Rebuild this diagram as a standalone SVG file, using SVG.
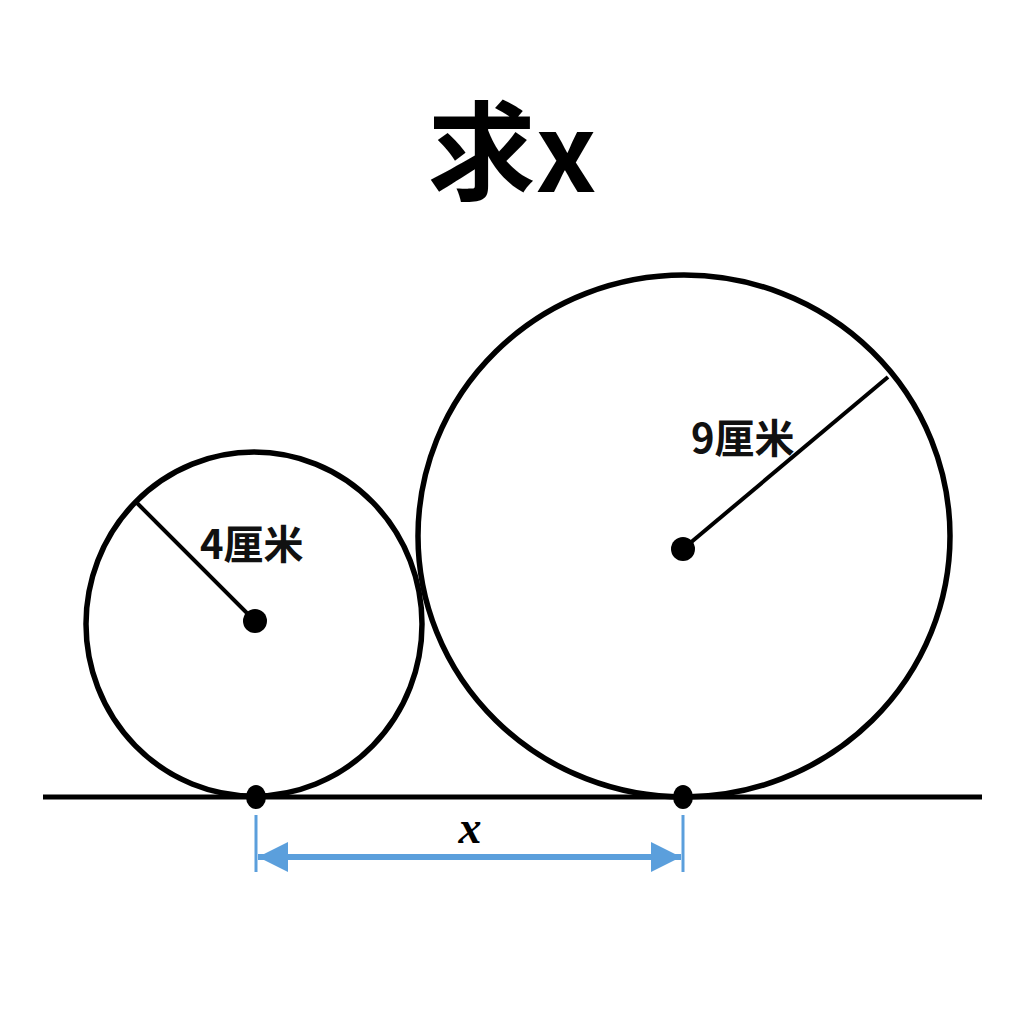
<svg xmlns="http://www.w3.org/2000/svg" width="1024" height="1024" viewBox="0 0 1024 1024">
<style>
.circ{fill:none;stroke:#000;stroke-width:5.5}
.rad{stroke:#000;stroke-width:4}
.dot{fill:#000}
.lbl{font-family:"Noto Sans CJK SC","Noto Sans",sans-serif;font-weight:bold;font-size:40px;fill:#111}
.dim{stroke:#5b9fdc;stroke-width:3}
</style>
<defs>
<marker id="ah" viewBox="0 0 10 10" refX="10" refY="5" markerWidth="5" markerHeight="5" orient="auto-start-reverse">
<path d="M0,0 L10,5 L0,10 z" fill="#5b9fdc"/>
</marker>
</defs>
<rect width="1024" height="1024" fill="#fff"/>
<text x="512" y="192" text-anchor="middle" font-family="Noto Sans CJK SC, sans-serif" font-weight="bold" font-size="108" fill="#000">求x</text>
<g id="ground"><line x1="43" y1="797" x2="982" y2="797" stroke="#000" stroke-width="5"/></g>
<g id="small-circle">
<ellipse class="circ" cx="254" cy="624" rx="168" ry="172"/>
<line class="rad" x1="255" y1="621" x2="136" y2="502"/>
<circle class="dot" cx="255" cy="621" r="12"/>
<text class="lbl" x="200" y="559">4厘米</text>
</g>
<g id="large-circle">
<ellipse class="circ" cx="684" cy="536" rx="266" ry="261"/>
<line class="rad" x1="683" y1="549" x2="888" y2="377"/>
<circle class="dot" cx="683" cy="549" r="12"/>
<text class="lbl" x="691" y="453">9厘米</text>
</g>
<g id="points">
<ellipse class="dot" cx="256" cy="797" rx="10" ry="12"/>
<ellipse class="dot" cx="683" cy="797" rx="10" ry="12"/>
</g>
<g id="connectors">
<line class="dim" x1="256" y1="815" x2="256" y2="872"/>
<line class="dim" x1="683" y1="815" x2="683" y2="872"/>
<line x1="258" y1="857" x2="681" y2="857" stroke="#5b9fdc" stroke-width="6" marker-start="url(#ah)" marker-end="url(#ah)"/>
<text x="470" y="843" text-anchor="middle" font-family="Liberation Serif, serif" font-style="italic" font-weight="bold" font-size="46" fill="#000">x</text>
</g>
</svg>
